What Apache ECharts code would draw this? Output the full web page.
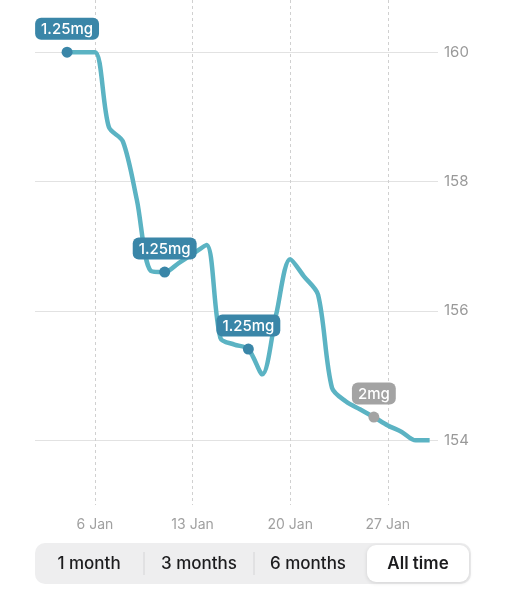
<!DOCTYPE html>
<html>
<head>
<meta charset="utf-8">
<script src="https://cdn.jsdelivr.net/npm/echarts@6/dist/echarts.min.js"></script>
<style>
  html, body { margin: 0; padding: 0; background: #fff; }
  #weightChart { width: 507px; height: 600px; }
</style>
</head>
<body>
<div id="weightChart"></div>
<script>
    // day of January -> weight
    var days = [4, 5, 6, 7, 8, 9, 10, 11, 12, 13, 14, 15, 16, 17, 18, 19, 20, 21, 22, 23, 24, 25, 26, 27, 28, 29, 30];
    var weights = [160, 160, 160, 158.84, 158.62, 157.72, 156.62, 156.6, 156.74, 156.88, 157.02, 155.58, 155.48, 155.41, 155.02, 155.95, 156.8, 156.53, 156.25, 154.81, 154.6, 154.48, 154.36, 154.23, 154.13, 154.0, 154.0];

    // injections
    var doseDays = [4, 11, 17, 26];
    var doseLabels = ['1.25mg', '1.25mg', '1.25mg', '2mg'];
    var doseColors = ['#3a86a8', '#3a86a8', '#3a86a8', '#a3a3a3'];

    var xTicks = [6, 13, 20, 27];
    var yTicks = [154, 156, 158, 160];
    var ranges = ['1 month', '3 months', '6 months', 'All time'];

    var font = 'Inter, "Noto Sans", sans-serif';

    var lineData = days.map(function (d, i) { return [d, weights[i]]; });
    var doseData = doseDays.map(function (d, i) {
        return {
            value: [d, weights[days.indexOf(d)]],
            itemStyle: { color: doseColors[i], opacity: 1 },
            label: { backgroundColor: doseColors[i], formatter: doseLabels[i] }
        };
    });

    // segmented control below the chart
    var segLeft = 35, segTop = 543, segW = 436, segH = 41;
    var segCenters = [89, 199, 308, 418];
    var controls = [
        { type: 'rect', shape: { x: segLeft, y: segTop, width: segW, height: segH, r: 10 }, style: { fill: '#eeeeef' } },
        { type: 'rect', shape: { x: 367, y: segTop + 2, width: 102, height: segH - 4, r: 9 },
          style: { fill: '#fff', shadowBlur: 4, shadowColor: 'rgba(0,0,0,0.12)', shadowOffsetY: 1 } },
        { type: 'line', shape: { x1: 144, y1: 552, x2: 144, y2: 575 }, style: { stroke: '#d4d4d6', lineWidth: 1 } },
        { type: 'line', shape: { x1: 254, y1: 552, x2: 254, y2: 575 }, style: { stroke: '#d4d4d6', lineWidth: 1 } }
    ];
    ranges.forEach(function (r, i) {
        controls.push({
            type: 'text', x: segCenters[i], y: segTop + segH / 2,
            style: { text: r, fill: '#1c1c1e', font: (i === 3 ? '600 ' : '500 ') + '17px ' + font, align: 'center', verticalAlign: 'middle' }
        });
    });

    var chart = echarts.init(document.getElementById('weightChart'));
    chart.setOption({
        animation: false,
        grid: { left: 35, right: 69, top: 0, bottom: 95 },
        xAxis: {
            type: 'value',
            min: 1.7,
            max: 30.6,
            axisLine: { show: false },
            axisTick: { show: false, customValues: xTicks },
            axisLabel: {
                customValues: xTicks,
                margin: 13,
                color: '#a0a0a0',
                fontSize: 14,
                fontFamily: font,
                formatter: function (v) { return v + ' Jan'; }
            },
            splitLine: { show: true, lineStyle: { color: '#d0d0d0', type: [3, 3], width: 1 } }
        },
        yAxis: {
            type: 'value',
            position: 'right',
            min: 153,
            max: 160.806,
            axisLine: { show: false },
            axisTick: { show: false, customValues: yTicks },
            axisLabel: {
                customValues: yTicks,
                margin: 6,
                color: '#999',
                fontSize: 15,
                fontFamily: font
            },
            splitLine: { show: true, lineStyle: { color: '#e2e2e2', width: 1 } }
        },
        series: [
            {
                type: 'line',
                data: lineData,
                smooth: 0.3,
                showSymbol: false,
                lineStyle: { color: '#5bb3c3', width: 4.5 },
                z: 2
            },
            {
                type: 'scatter',
                data: doseData,
                symbolSize: 11,
                itemStyle: { opacity: 1 },
                label: {
                    show: true,
                    position: 'top',
                    distance: 7,
                    color: '#fff',
                    fontSize: 15,
                    fontWeight: 500,
                    fontFamily: font,
                    padding: [3, 6, 2, 6],
                    borderRadius: 6,
                    lineHeight: 17
                },
                z: 3
            }
        ],
        graphic: controls
    });
</script>
</body>
</html>
